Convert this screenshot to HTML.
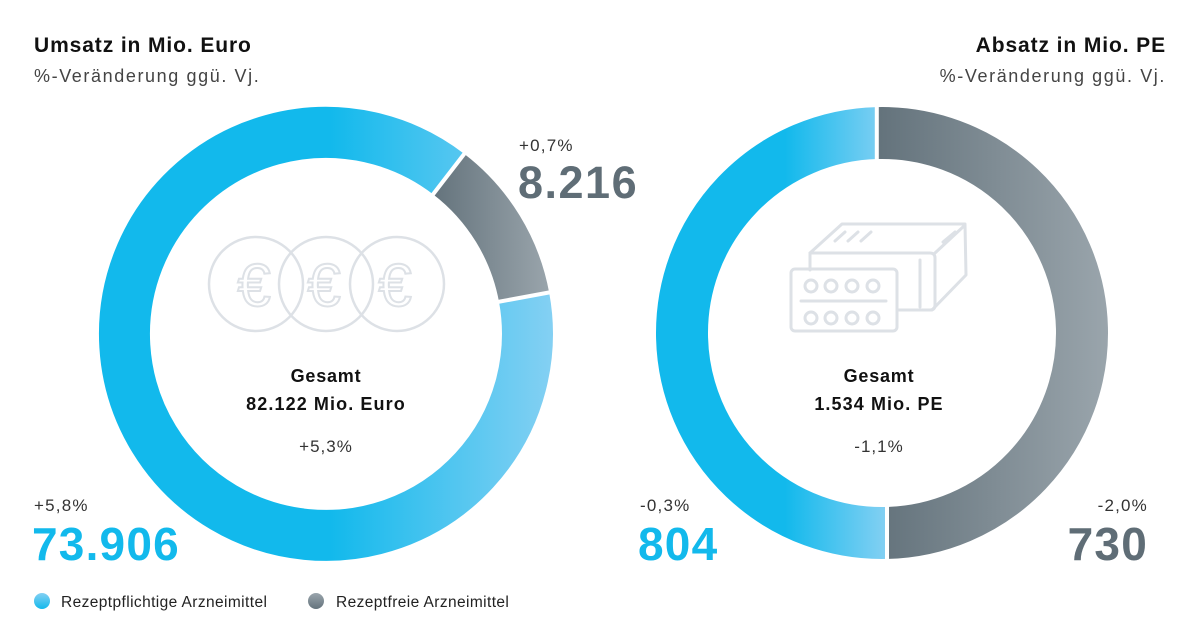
<!DOCTYPE html>
<html><head><meta charset="utf-8"><style>
html,body{margin:0;padding:0;background:#fff}
svg{display:block}
text{font-family:"Liberation Sans",sans-serif}
</style></head><body>
<svg width="1200" height="640" viewBox="0 0 1200 640" xmlns="http://www.w3.org/2000/svg">
<defs>
<linearGradient id="bL" gradientUnits="userSpaceOnUse" x1="330" y1="0" x2="553" y2="0">
<stop offset="0" stop-color="#12b9ec"/><stop offset="1" stop-color="#84d0f3"/></linearGradient>
<linearGradient id="gL" gradientUnits="userSpaceOnUse" x1="433" y1="0" x2="550" y2="0">
<stop offset="0" stop-color="#64737c"/><stop offset="1" stop-color="#9aa5ac"/></linearGradient>
<linearGradient id="bR" gradientUnits="userSpaceOnUse" x1="785" y1="0" x2="887" y2="0">
<stop offset="0" stop-color="#12b9ec"/><stop offset="1" stop-color="#84d0f3"/></linearGradient>
<linearGradient id="gR" gradientUnits="userSpaceOnUse" x1="880" y1="0" x2="1108" y2="0">
<stop offset="0" stop-color="#64737c"/><stop offset="1" stop-color="#9aa5ac"/></linearGradient>
<linearGradient id="lb" x1="0" y1="0" x2="0" y2="1"><stop offset="0" stop-color="#84d0f3"/><stop offset="1" stop-color="#12b9ec"/></linearGradient>
<linearGradient id="lg" x1="0" y1="0" x2="0" y2="1"><stop offset="0" stop-color="#9aa5ac"/><stop offset="1" stop-color="#64737c"/></linearGradient>
</defs>

<text x="34" y="52" font-size="21" font-weight="bold" fill="#111" letter-spacing="0.9">Umsatz in Mio. Euro</text>
<text x="34" y="82" font-size="18" fill="#444" letter-spacing="1.6">%-Veränderung ggü. Vj.</text>
<text x="1166" y="52" font-size="21" font-weight="bold" fill="#111" text-anchor="end" letter-spacing="0.9">Absatz in Mio. PE</text>
<text x="1166" y="82" font-size="18" fill="#444" text-anchor="end" letter-spacing="1.6">%-Veränderung ggü. Vj.</text>

<path d="M524.1 297.3 A201.5 201.5 0 1 1 448.7 174.1" fill="none" stroke="url(#bL)" stroke-width="51"/>
<path d="M448.7 174.1 A201.5 201.5 0 0 1 524.1 297.3" fill="none" stroke="url(#gL)" stroke-width="51"/>
<line x1="431" y1="197" x2="468" y2="149" stroke="#fff" stroke-width="4"/>
<line x1="492" y1="303" x2="557" y2="291" stroke="#fff" stroke-width="4"/>

<g fill="none" stroke="#dde1e6" stroke-width="2.5">
<circle cx="256" cy="284" r="47"/><circle cx="326" cy="284" r="47"/><circle cx="397" cy="284" r="47"/>
</g>
<g fill="none" stroke="#dde1e6" stroke-width="2" font-size="60" text-anchor="middle">
<text x="254" y="306">€</text><text x="324" y="306">€</text><text x="395" y="306">€</text>
</g>

<text x="326" y="382" font-size="18" font-weight="bold" fill="#111" text-anchor="middle" letter-spacing="0.8">Gesamt</text>
<text x="326" y="410" font-size="18" font-weight="bold" fill="#111" text-anchor="middle" letter-spacing="1.1">82.122 Mio. Euro</text>
<text x="326" y="452" font-size="17" fill="#333" text-anchor="middle" letter-spacing="1">+5,3%</text>

<text x="519" y="151" font-size="17" fill="#333" letter-spacing="1.2">+0,7%</text>
<text x="518" y="198" font-size="45" font-weight="bold" fill="#5f6d76" letter-spacing="1.5">8.216</text>
<text x="34" y="511" font-size="17" fill="#333" letter-spacing="1.2">+5,8%</text>
<text x="32" y="560" font-size="46" font-weight="bold" fill="#12b9ec" letter-spacing="1.2">73.906</text>

<path d="M887 532.94 A200 200 0 0 1 877 133.06" fill="none" stroke="url(#bR)" stroke-width="52"/>
<path d="M877 133.06 A200 200 0 1 1 887 532.94" fill="none" stroke="url(#gR)" stroke-width="52"/>
<line x1="876.8" y1="100" x2="876.8" y2="170" stroke="#fff" stroke-width="4"/>
<line x1="887" y1="495" x2="887" y2="566" stroke="#fff" stroke-width="4"/>

<g fill="none" stroke="#dde1e6" stroke-width="3" stroke-linejoin="round" stroke-linecap="round">
<path d="M810 253 L842 224 L965 224 L966 275 L932 310 L897 310"/>
<path d="M810 270 L810 253 L930 253 Q935 253 935 258 L935 305 Q935 310 930 310 L897 310"/>
<line x1="920" y1="260" x2="920" y2="307"/>
<line x1="935" y1="253" x2="964" y2="226"/>
<line x1="835" y1="241" x2="845" y2="232"/><line x1="848" y1="241" x2="858" y2="232"/><line x1="861" y1="241" x2="871" y2="232"/>
<line x1="943" y1="242" x2="955" y2="232"/>
<rect x="791" y="269" width="106" height="62" rx="4"/>
<line x1="801" y1="301" x2="886" y2="301"/>
<circle cx="811" cy="286" r="6"/><circle cx="831" cy="286" r="6"/><circle cx="852" cy="286" r="6"/><circle cx="873" cy="286" r="6"/>
<circle cx="811" cy="318" r="6"/><circle cx="831" cy="318" r="6"/><circle cx="852" cy="318" r="6"/><circle cx="873" cy="318" r="6"/>
</g>

<text x="879" y="382" font-size="18" font-weight="bold" fill="#111" text-anchor="middle" letter-spacing="0.8">Gesamt</text>
<text x="879" y="410" font-size="18" font-weight="bold" fill="#111" text-anchor="middle" letter-spacing="1.1">1.534 Mio. PE</text>
<text x="879" y="452" font-size="17" fill="#333" text-anchor="middle" letter-spacing="1">-1,1%</text>

<text x="640" y="511" font-size="17" fill="#333" letter-spacing="1.2">-0,3%</text>
<text x="638" y="560" font-size="46" font-weight="bold" fill="#12b9ec" letter-spacing="1.2">804</text>
<text x="1148" y="511" font-size="17" fill="#333" text-anchor="end" letter-spacing="1.2">-2,0%</text>
<text x="1148" y="560" font-size="46" font-weight="bold" fill="#5f6d76" text-anchor="end" letter-spacing="1.2">730</text>

<circle cx="42" cy="601" r="8" fill="url(#lb)"/>
<text x="61" y="607" font-size="15.5" fill="#222" letter-spacing="0.4">Rezeptpflichtige Arzneimittel</text>
<circle cx="316" cy="601" r="8" fill="url(#lg)"/>
<text x="336" y="607" font-size="15.5" fill="#222" letter-spacing="0.4">Rezeptfreie Arzneimittel</text>
</svg>
</body></html>
